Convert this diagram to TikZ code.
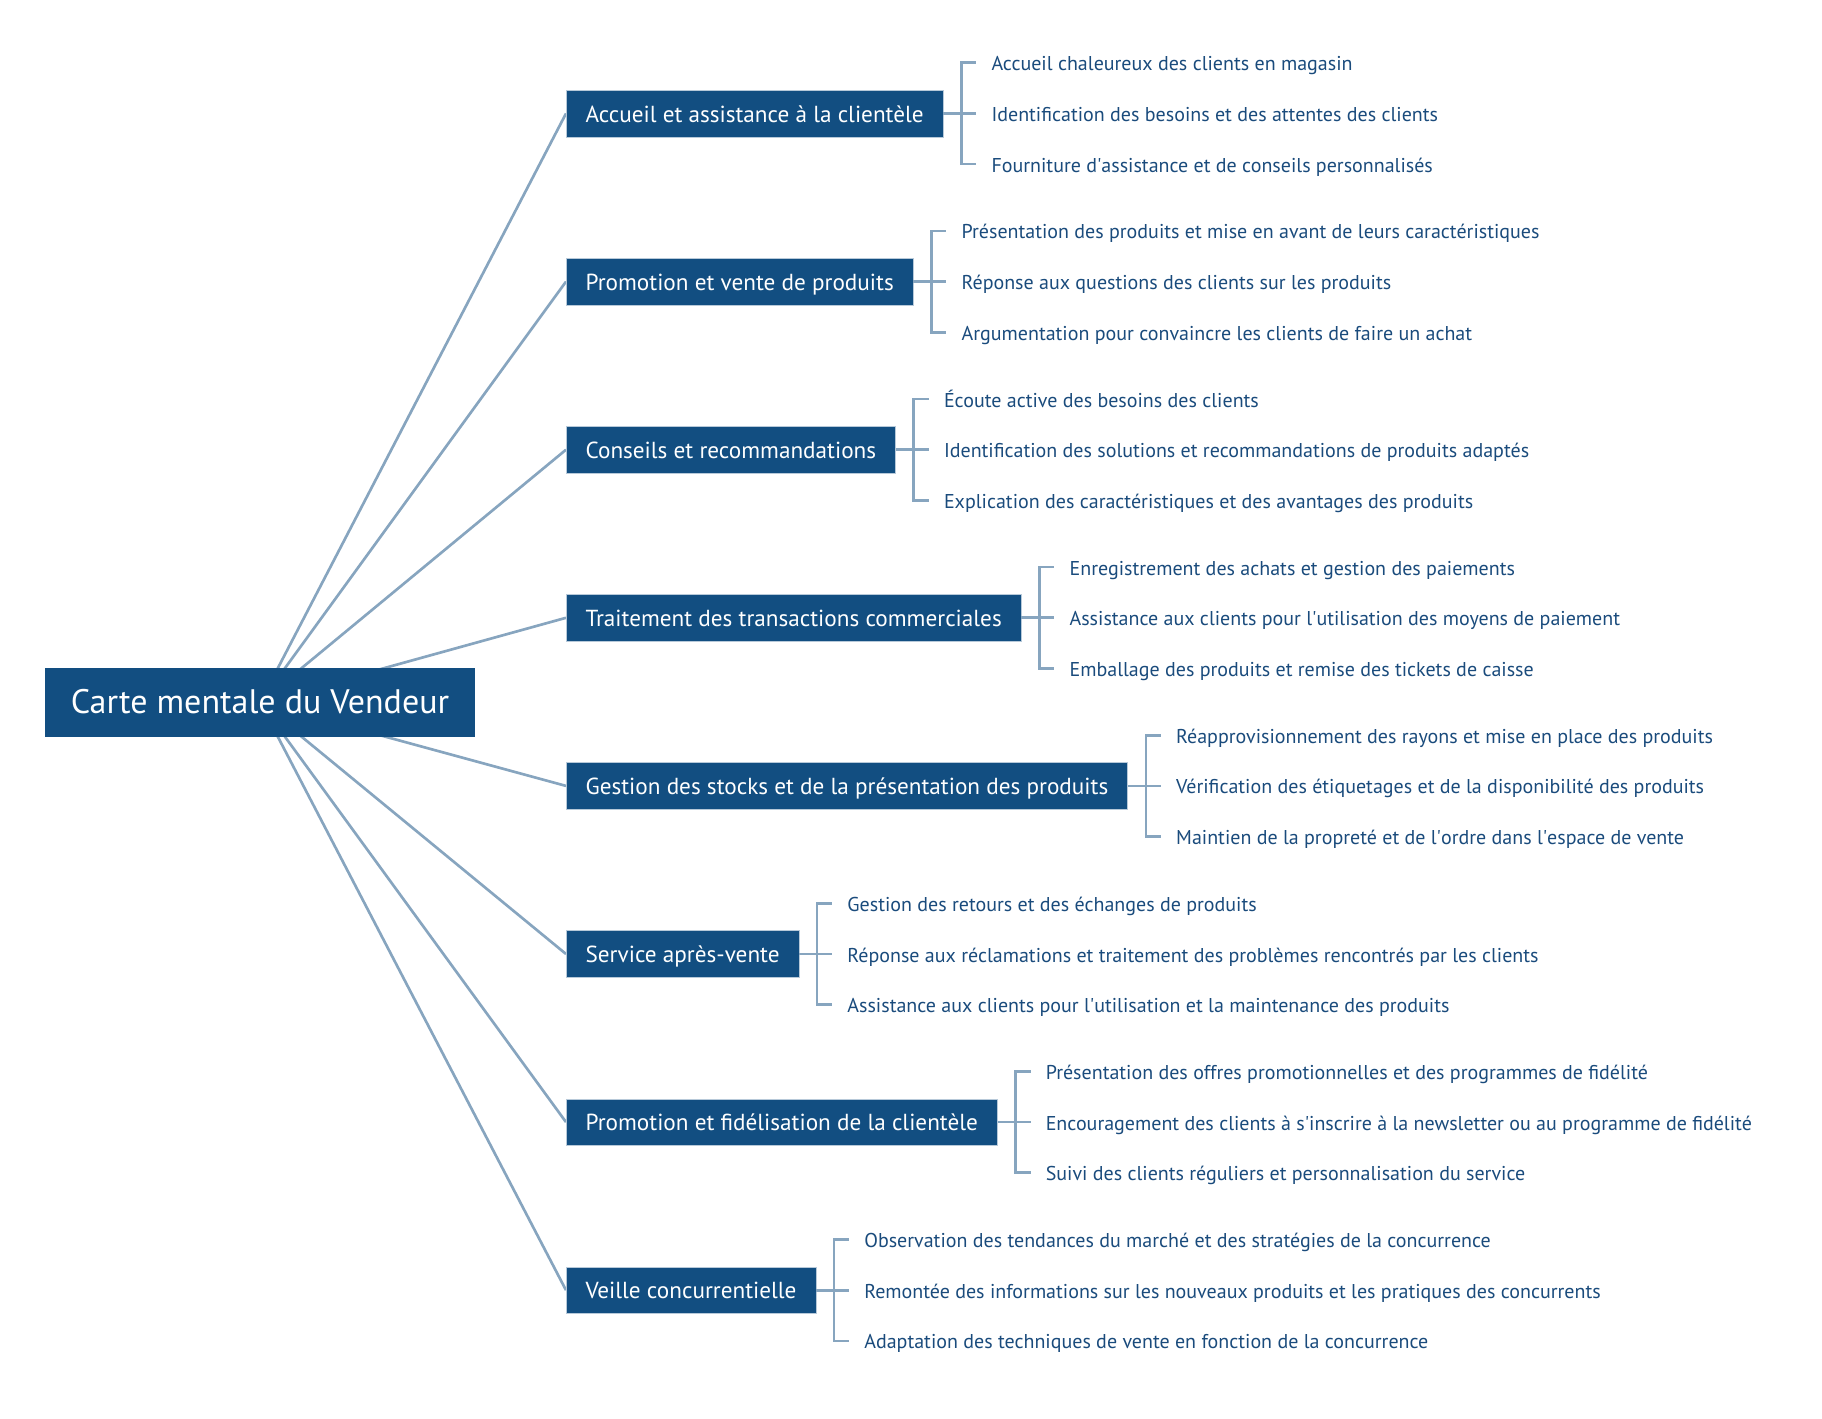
\documentclass[tikz,border=0pt]{standalone}
\usepackage{fontspec}
\setmainfont{PT Sans}
\usetikzlibrary{positioning,calc,backgrounds}

\definecolor{boxblue}{RGB}{18,78,129}
\definecolor{linkblue}{RGB}{135,165,191}
\definecolor{leafblue}{RGB}{26,75,124}

\tikzset{
  root/.style={fill=boxblue, text=white, font=\fontsize{25.5}{30}\selectfont,
    minimum width=322.5pt, minimum height=51.75pt, inner sep=0pt,
    text height=20.7pt, text depth=4pt},
  branch/.style={fill=boxblue, draw=linkblue!60, line width=0.4pt, text=white,
    font=\fontsize{17.4}{20}\selectfont, anchor=west, inner xsep=14.5pt,
    minimum height=35pt, text height=15pt, text depth=2pt},
  leaf/.style={text=leafblue, font=\fontsize{15}{18}\selectfont, inner sep=0pt,
    text height=14pt, text depth=2pt},
  link/.style={draw=linkblue, line width=2pt},
}

\begin{document}
\begin{tikzpicture}[x=0.75pt, y=-0.75pt]
    \useasboundingbox (0,0) rectangle (1822,1419);

    \node[root] (root) at (260,702.5) {Carte mentale du Vendeur};

    % branches
    \node[branch] (b1) at (566,113.5) {Accueil et assistance à la clientèle};
    \node[branch] (b2) at (566,281.6) {Promotion et vente de produits};
    \node[branch] (b3) at (566,449.7) {Conseils et recommandations};
    \node[branch] (b4) at (566,617.8) {Traitement des transactions commerciales};
    \node[branch] (b5) at (566,785.9) {Gestion des stocks et de la présentation des produits};
    \node[branch] (b6) at (566,954) {Service après-vente};
    \node[branch] (b7) at (566,1122.1) {Promotion et fidélisation de la clientèle};
    \node[branch] (b8) at (566,1290.2) {Veille concurrentielle};

    % leaves
    \node[leaf, right=36pt of b1.east, yshift=38pt] (l11) {Accueil chaleureux des clients en magasin};
    \node[leaf, right=36pt of b1.east] (l12) {Identification des besoins et des attentes des clients};
    \node[leaf, right=36pt of b1.east, yshift=-38pt] (l13) {Fourniture d\textquotesingle assistance et de conseils personnalisés};

    \node[leaf, right=36pt of b2.east, yshift=38pt] (l21) {Présentation des produits et mise en avant de leurs caractéristiques};
    \node[leaf, right=36pt of b2.east] (l22) {Réponse aux questions des clients sur les produits};
    \node[leaf, right=36pt of b2.east, yshift=-38pt] (l23) {Argumentation pour convaincre les clients de faire un achat};

    \node[leaf, right=36pt of b3.east, yshift=38pt] (l31) {Écoute active des besoins des clients};
    \node[leaf, right=36pt of b3.east] (l32) {Identification des solutions et recommandations de produits adaptés};
    \node[leaf, right=36pt of b3.east, yshift=-38pt] (l33) {Explication des caractéristiques et des avantages des produits};

    \node[leaf, right=36pt of b4.east, yshift=38pt] (l41) {Enregistrement des achats et gestion des paiements};
    \node[leaf, right=36pt of b4.east] (l42) {Assistance aux clients pour l\textquotesingle utilisation des moyens de paiement};
    \node[leaf, right=36pt of b4.east, yshift=-38pt] (l43) {Emballage des produits et remise des tickets de caisse};

    \node[leaf, right=36pt of b5.east, yshift=38pt] (l51) {Réapprovisionnement des rayons et mise en place des produits};
    \node[leaf, right=36pt of b5.east] (l52) {Vérification des étiquetages et de la disponibilité des produits};
    \node[leaf, right=36pt of b5.east, yshift=-38pt] (l53) {Maintien de la propreté et de l\textquotesingle ordre dans l\textquotesingle espace de vente};

    \node[leaf, right=36pt of b6.east, yshift=38pt] (l61) {Gestion des retours et des échanges de produits};
    \node[leaf, right=36pt of b6.east] (l62) {Réponse aux réclamations et traitement des problèmes rencontrés par les clients};
    \node[leaf, right=36pt of b6.east, yshift=-38pt] (l63) {Assistance aux clients pour l\textquotesingle utilisation et la maintenance des produits};

    \node[leaf, right=36pt of b7.east, yshift=38pt] (l71) {Présentation des offres promotionnelles et des programmes de fidélité};
    \node[leaf, right=36pt of b7.east] (l72) {Encouragement des clients à s\textquotesingle inscrire à la newsletter ou au programme de fidélité};
    \node[leaf, right=36pt of b7.east, yshift=-38pt] (l73) {Suivi des clients réguliers et personnalisation du service};

    \node[leaf, right=36pt of b8.east, yshift=38pt] (l81) {Observation des tendances du marché et des stratégies de la concurrence};
    \node[leaf, right=36pt of b8.east] (l82) {Remontée des informations sur les nouveaux produits et les pratiques des concurrents};
    \node[leaf, right=36pt of b8.east, yshift=-38pt] (l83) {Adaptation des techniques de vente en fonction de la concurrence};

    % links from the root
    \begin{scope}[on background layer]
        \draw[link] (root.center) -- (b1.west);
        \draw[link] (root.center) -- (b2.west);
        \draw[link] (root.center) -- (b3.west);
        \draw[link] (root.center) -- (b4.west);
        \draw[link] (root.center) -- (b5.west);
        \draw[link] (root.center) -- (b6.west);
        \draw[link] (root.center) -- (b7.west);
        \draw[link] (root.center) -- (b8.west);
    \end{scope}

    % brackets
    \draw[link] (b1.east) -- ++(18,0) coordinate (j1);
    \draw[link] (j1) |- ($(l11.west)+(-15,0)$);
    \draw[link] (j1) -- ($(l12.west)+(-15,0)$);
    \draw[link] (j1) |- ($(l13.west)+(-15,0)$);

    \draw[link] (b2.east) -- ++(18,0) coordinate (j2);
    \draw[link] (j2) |- ($(l21.west)+(-15,0)$);
    \draw[link] (j2) -- ($(l22.west)+(-15,0)$);
    \draw[link] (j2) |- ($(l23.west)+(-15,0)$);

    \draw[link] (b3.east) -- ++(18,0) coordinate (j3);
    \draw[link] (j3) |- ($(l31.west)+(-15,0)$);
    \draw[link] (j3) -- ($(l32.west)+(-15,0)$);
    \draw[link] (j3) |- ($(l33.west)+(-15,0)$);

    \draw[link] (b4.east) -- ++(18,0) coordinate (j4);
    \draw[link] (j4) |- ($(l41.west)+(-15,0)$);
    \draw[link] (j4) -- ($(l42.west)+(-15,0)$);
    \draw[link] (j4) |- ($(l43.west)+(-15,0)$);

    \draw[link] (b5.east) -- ++(18,0) coordinate (j5);
    \draw[link] (j5) |- ($(l51.west)+(-15,0)$);
    \draw[link] (j5) -- ($(l52.west)+(-15,0)$);
    \draw[link] (j5) |- ($(l53.west)+(-15,0)$);

    \draw[link] (b6.east) -- ++(18,0) coordinate (j6);
    \draw[link] (j6) |- ($(l61.west)+(-15,0)$);
    \draw[link] (j6) -- ($(l62.west)+(-15,0)$);
    \draw[link] (j6) |- ($(l63.west)+(-15,0)$);

    \draw[link] (b7.east) -- ++(18,0) coordinate (j7);
    \draw[link] (j7) |- ($(l71.west)+(-15,0)$);
    \draw[link] (j7) -- ($(l72.west)+(-15,0)$);
    \draw[link] (j7) |- ($(l73.west)+(-15,0)$);

    \draw[link] (b8.east) -- ++(18,0) coordinate (j8);
    \draw[link] (j8) |- ($(l81.west)+(-15,0)$);
    \draw[link] (j8) -- ($(l82.west)+(-15,0)$);
    \draw[link] (j8) |- ($(l83.west)+(-15,0)$);
\end{tikzpicture}
\end{document}
